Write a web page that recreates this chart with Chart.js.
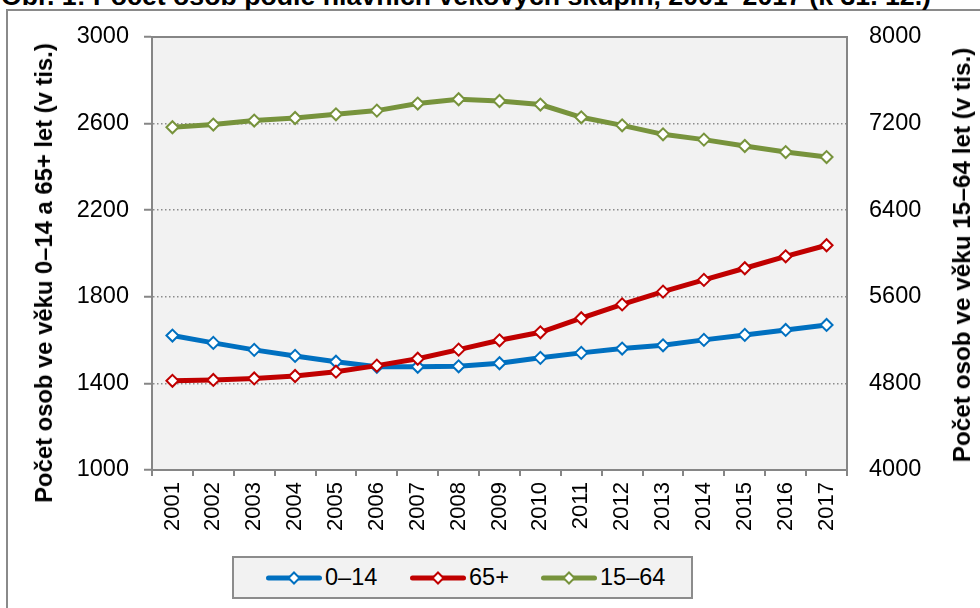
<!DOCTYPE html>
<html>
<head>
<meta charset="utf-8">
<script src="https://cdn.jsdelivr.net/npm/chart.js@4.4.0/dist/chart.umd.min.js"></script>
<style>
  body { margin: 0; background: #fff; font-family: 'Liberation Sans', Arial, sans-serif; }
  #wrap { position: relative; width: 980px; height: 608px; overflow: hidden; }
  #frame { position: absolute; left: 6px; top: 9px; width: 1100px; height: 800px; border: 2px solid #8a8a8a; }
  #title { position: absolute; left: 1px; top: -19px; font: bold 26.7px 'Liberation Sans', Arial, sans-serif; line-height: 30px; white-space: nowrap; color: #000; }
  #chartBox { position: absolute; left: 0; top: 0; width: 980px; height: 608px; }
  .axTitle { position: absolute; font-family: 'Liberation Sans', Arial, sans-serif; font-weight: bold; white-space: nowrap; color: #000;
             transform: translate(-50%, -50%) rotate(-90deg); }
  #legend { position: absolute; left: 232px; top: 556px; width: 457px; height: 39px; background: #f2f2f2; border: 2px solid #8c8c8c; }
  .item { position: absolute; top: 0; height: 39px; display: flex; align-items: center; font-size: 23.5px; color: #000; }
  .item svg { margin-right: 3px; }
</style>
</head>
<body>
<div id="wrap">
  <div id="frame"></div>
  <div id="title">Obr. 1: Počet osob podle hlavních věkových skupin, 2001–2017 (k 31. 12.)</div>
  <div id="chartBox"><canvas id="popChart" width="980" height="608"></canvas></div>
  <div class="axTitle" style="left:44px; top:273px; font-size:23.8px;">Počet osob ve věku 0–14 a 65+ let (v tis.)</div>
  <div class="axTitle" style="left:962px; top:255px; font-size:24.3px;">Počet osob ve věku 15–64 let (v tis.)</div>
  <div id="legend"></div>
</div>
<script>
const years = ['2001', '2002', '2003', '2004', '2005', '2006', '2007', '2008', '2009',
    '2010', '2011', '2012', '2013', '2014', '2015', '2016', '2017'];
const age0to14 = [1621, 1587, 1555, 1527, 1500, 1477, 1477, 1479, 1493, 1518, 1541, 1561, 1576, 1601, 1624, 1647, 1670];
const age65plus = [1412, 1416, 1423, 1434, 1454, 1482, 1514, 1556, 1599, 1636, 1701, 1765, 1824, 1878, 1932, 1987, 2038];
const age15to64 = [7166, 7191, 7228, 7252, 7286, 7320, 7385, 7425, 7409, 7376, 7258, 7184, 7101, 7052, 6993, 6937, 6891];
const leftTicks = [1000, 1400, 1800, 2200, 2600, 3000];
const rightTicks = [4000, 4800, 5600, 6400, 7200, 8000];

const BLUE = '#0070C0';
const RED = '#C00000';
const GREEN = '#77933C';
const AXIS_GRAY = '#868686';
const FAMILY = "'Liberation Sans', Arial, sans-serif";

function lineSet(label, data, color, axis, order) {
    return {
        label: label,
        data: data,
        yAxisID: axis,
        order: order,
        borderColor: color,
        borderWidth: 5,
        pointStyle: 'rectRot',
        pointRadius: 6,
        pointBorderWidth: 2,
        pointBackgroundColor: '#fff',
        pointBorderColor: color,
        tension: 0
    };
}

// plot area background + top frame line
const plotFrame = {
    id: 'plotFrame',
    beforeDraw(chart) {
        const { ctx, chartArea: a } = chart;
        ctx.save();
        ctx.fillStyle = '#f2f2f2';
        ctx.fillRect(a.left, a.top, a.right - a.left, a.bottom - a.top);
        ctx.restore();
    },
    beforeDatasetsDraw(chart) {
        const { ctx, chartArea: a } = chart;
        ctx.save();
        ctx.strokeStyle = AXIS_GRAY;
        ctx.lineWidth = 2;
        ctx.beginPath();
        ctx.moveTo(a.left, a.top);
        ctx.lineTo(a.right, a.top);
        ctx.stroke();
        ctx.restore();
    }
};

const plain = v => String(v);

const chart = new Chart(document.getElementById('popChart'), {
    type: 'line',
    data: {
        labels: years,
        datasets: [
            lineSet('0–14', age0to14, BLUE, 'yLeft', 1),
            lineSet('65+', age65plus, RED, 'yLeft', 0),
            lineSet('15–64', age15to64, GREEN, 'yRight', 2)
        ]
    },
    options: {
        responsive: false,
        animation: false,
        layout: { padding: { top: 37, left: 0, right: 0, bottom: 0 } },
        plugins: {
            legend: { display: false },
            tooltip: { enabled: false }
        },
        scales: {
            x: {
                offset: true,
                afterFit: s => { s.height = 138; },
                grid: { drawOnChartArea: false, offset: true, tickLength: 6, color: AXIS_GRAY, lineWidth: 2 },
                border: { color: AXIS_GRAY, width: 2 },
                ticks: { color: '#000', font: { family: FAMILY, size: 22 }, minRotation: 90, maxRotation: 90, padding: 6 }
            },
            yLeft: {
                position: 'left',
                min: 1000,
                max: 3000,
                afterFit: s => { s.width = 152; },
                afterBuildTicks: s => { s.ticks = leftTicks.map(v => ({ value: v })); },
                grid: { color: '#8c8c8c', lineWidth: 1.5, tickLength: 8, tickColor: AXIS_GRAY, tickWidth: 2 },
                border: { color: AXIS_GRAY, width: 2, dash: [1.5, 2.5] },
                ticks: { color: '#000', font: { family: FAMILY, size: 23.5 }, padding: 15, callback: plain }
            },
            yRight: {
                position: 'right',
                min: 4000,
                max: 8000,
                afterFit: s => { s.width = 133; },
                afterBuildTicks: s => { s.ticks = rightTicks.map(v => ({ value: v })); },
                grid: { display: false, drawTicks: false },
                border: { color: AXIS_GRAY, width: 2 },
                ticks: { color: '#000', font: { family: FAMILY, size: 23.5 }, padding: 22, callback: plain }
            }
        }
    },
    plugins: [plotFrame]
});

// legend: line with diamond marker, like the original
const legendItems = [
    { label: '0–14', color: BLUE, left: 32 },
    { label: '65+', color: RED, left: 176 },
    { label: '15–64', color: GREEN, left: 307 }
];
const legend = document.getElementById('legend');
legendItems.forEach(it => {
    const div = document.createElement('div');
    div.className = 'item';
    div.style.left = it.left + 'px';
    div.innerHTML =
        `<svg width="56" height="14" viewBox="0 0 56 14">` +
        `<line x1="2.5" y1="7" x2="53.5" y2="7" stroke="${it.color}" stroke-width="5" stroke-linecap="round"/>` +
        `<polygon points="28,1.5 33.5,7 28,12.5 22.5,7" fill="#fff" stroke="${it.color}" stroke-width="2"/>` +
        `</svg><span>${it.label}</span>`;
    legend.appendChild(div);
});
</script>
</body>
</html>
